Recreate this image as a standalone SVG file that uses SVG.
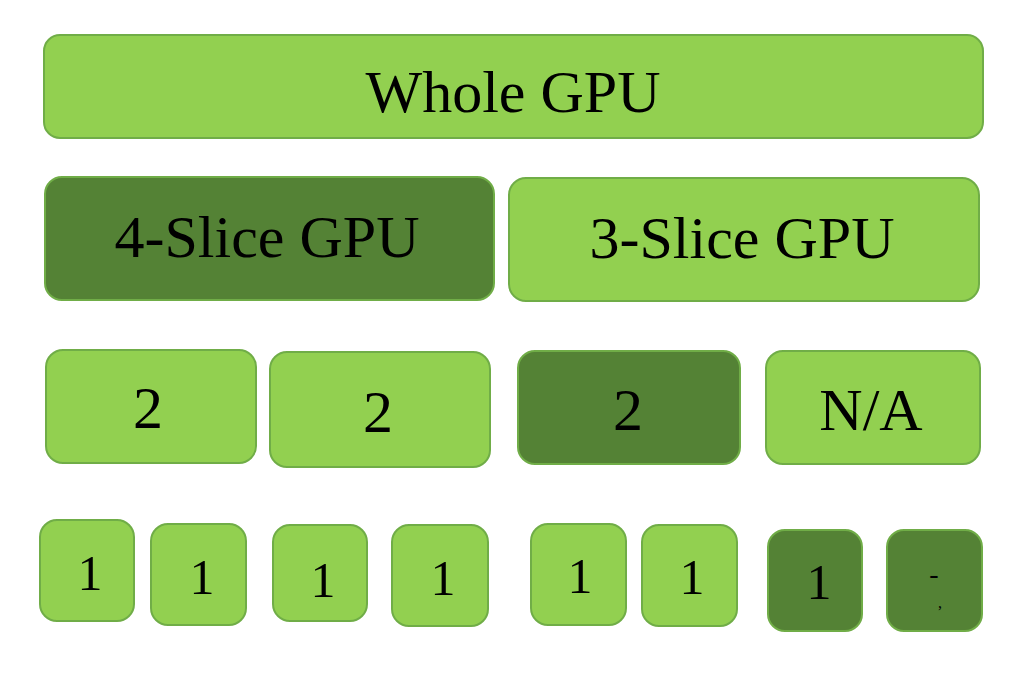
<svg xmlns="http://www.w3.org/2000/svg" width="1035" height="674" viewBox="0 0 1035 674">
  <style>
    .light { fill: #92d050; stroke: #70ad47; stroke-width: 2; }
    .dark { fill: #548235; stroke: #70ad47; stroke-width: 2; }
    .big { font-family: "Liberation Serif", "Times New Roman", serif; font-size: 60px; fill: #000; text-anchor: middle; }
    .small { font-family: "Liberation Serif", "Times New Roman", serif; font-size: 50px; fill: #000; text-anchor: middle; }
  </style>
  <rect width="1035" height="674" fill="#ffffff"/>
  <g id="whole-gpu">
    <rect class="light" x="44" y="35" width="939" height="103" rx="16"/>
    <text class="big" x="513" y="112">Whole GPU</text>
  </g>
  <g id="slice4">
    <rect class="dark" x="45" y="177" width="449" height="123" rx="17"/>
    <text class="big" x="267" y="257">4-Slice GPU</text>
  </g>
  <g id="slice3">
    <rect class="light" x="509" y="178" width="470" height="123" rx="17"/>
    <text class="big" x="742" y="258">3-Slice GPU</text>
  </g>
  <g id="two-a">
    <rect class="light" x="46" y="350" width="210" height="113" rx="17"/>
    <text class="big" x="148" y="428">2</text>
  </g>
  <g id="two-b">
    <rect class="light" x="270" y="352" width="220" height="115" rx="17"/>
    <text class="big" x="378" y="432">2</text>
  </g>
  <g id="two-c">
    <rect class="dark" x="518" y="351" width="222" height="113" rx="17"/>
    <text class="big" x="628" y="430">2</text>
  </g>
  <g id="na">
    <rect class="light" x="766" y="351" width="214" height="113" rx="17"/>
    <text class="big" x="871" y="430">N/A</text>
  </g>
  <g id="one-1">
    <rect class="light" x="40" y="520" width="94" height="101" rx="17"/>
    <text class="small" x="90" y="590">1</text>
  </g>
  <g id="one-2">
    <rect class="light" x="151" y="524" width="95" height="101" rx="17"/>
    <text class="small" x="202" y="594">1</text>
  </g>
  <g id="one-3">
    <rect class="light" x="273" y="525" width="94" height="96" rx="17"/>
    <text class="small" x="323" y="597">1</text>
  </g>
  <g id="one-4">
    <rect class="light" x="392" y="525" width="96" height="101" rx="17"/>
    <text class="small" x="443" y="595">1</text>
  </g>
  <g id="one-5">
    <rect class="light" x="531" y="524" width="95" height="101" rx="17"/>
    <text class="small" x="580" y="593">1</text>
  </g>
  <g id="one-6">
    <rect class="light" x="642" y="525" width="95" height="101" rx="17"/>
    <text class="small" x="692" y="594">1</text>
  </g>
  <g id="one-7">
    <rect class="dark" x="768" y="530" width="94" height="101" rx="17"/>
    <text class="small" x="819" y="599">1</text>
  </g>
  <g id="one-8">
    <rect class="dark" x="887" y="530" width="95" height="101" rx="17"/>
    <text font-family="Liberation Serif, serif" font-size="28" text-anchor="middle" x="934" y="583">-</text>
    <text font-family="Liberation Serif, serif" font-size="16" text-anchor="middle" x="940" y="608">,</text>
  </g>
  <g id="connectors"></g>
</svg>
